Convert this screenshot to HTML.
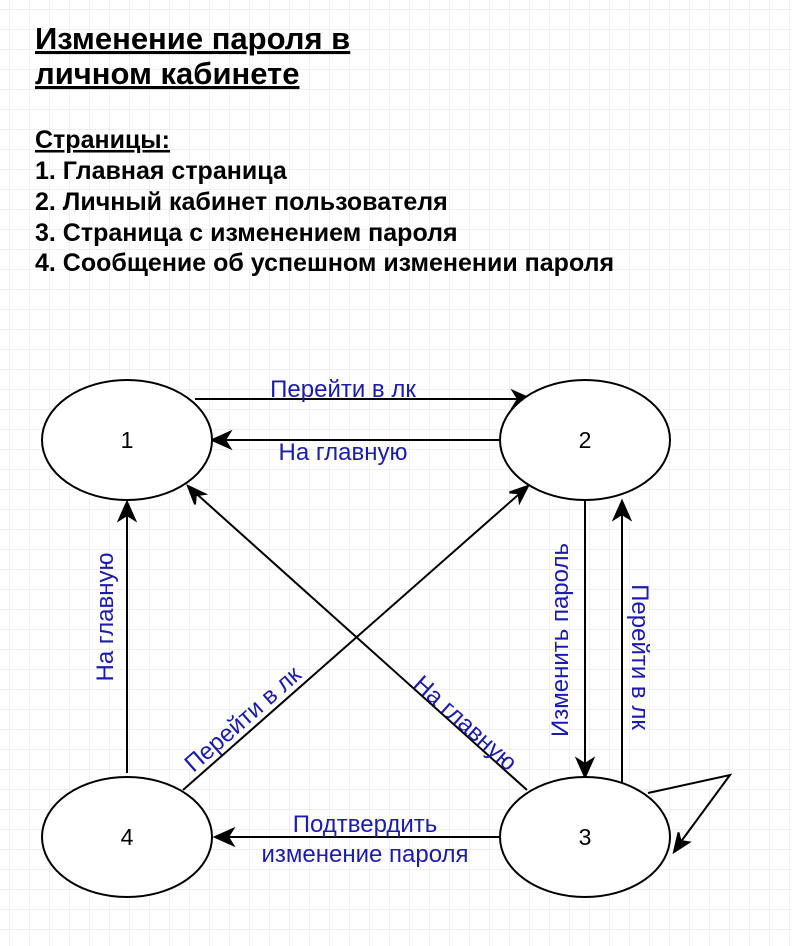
<!DOCTYPE html>
<html><head><meta charset="utf-8"><style>
body{margin:0;background:#fff;}
svg{display:block;}
</style></head><body>
<svg width="792" height="946" xmlns="http://www.w3.org/2000/svg">
<defs>
<pattern id="g" x="9" y="9" width="20" height="20" patternUnits="userSpaceOnUse">
<path d="M20 0H0V20" fill="none" stroke="#e0e0e0" stroke-width="1"/>
</pattern>
</defs>
<rect width="792" height="946" fill="url(#g)"/>
<g font-family="Liberation Sans, sans-serif" font-weight="bold" fill="#000">
<text x="35" y="49" font-size="31" text-decoration="underline">Изменение пароля в</text>
<text x="35" y="84" font-size="31" text-decoration="underline">личном кабинете</text>
<text x="35" y="148" font-size="25" text-decoration="underline">Страницы:</text>
<text x="35" y="179" font-size="25">1. Главная страница</text>
<text x="35" y="210" font-size="25">2. Личный кабинет пользователя</text>
<text x="35" y="241" font-size="25">3. Страница с изменением пароля</text>
<text x="35" y="271" font-size="25">4. Сообщение об успешном изменении пароля</text>
</g>
<g stroke="#000" stroke-width="2" fill="none">
<line x1="195" y1="399" x2="528" y2="399"/>
<path d="M531 399 l-18 -8 l5 8 l-5 8z" fill="#000"/>
<line x1="500" y1="440" x2="214" y2="440"/>
<path d="M212 440 l18 -8 l-5 8 l5 8z" fill="#000"/>
<line x1="127" y1="773" x2="127" y2="505"/>
<path d="M127 502 l-8 18 l8 -5 l8 5z" fill="#000"/>
<line x1="183" y1="790" x2="526" y2="488"/>
<path d="M528 486 l-18.5 6.5 l9 0.6 l1.2 9z" fill="#000"/>
<line x1="527" y1="790" x2="190" y2="488"/>
<path d="M188 486 l7 18.3 l0.8 -9 l9 -1.3z" fill="#000"/>
<line x1="585" y1="500" x2="585" y2="774"/>
<path d="M585 777 l-8 -18 l8 5 l8 -5z" fill="#000"/>
<line x1="622" y1="782" x2="622" y2="504"/>
<path d="M622 501 l-8 18 l8 -5 l8 5z" fill="#000"/>
<line x1="500" y1="837" x2="218" y2="837"/>
<path d="M215 837 l18 -8 l-5 8 l5 8z" fill="#000"/>
<polyline points="648,793 730,775 677,847"/>
<path d="M674 852 l4.5 -19.5 l2 8.5 l8.5 1.3z" fill="#000"/>
<ellipse cx="127" cy="440" rx="85" ry="60" fill="#fff"/>
<ellipse cx="585" cy="440" rx="85" ry="60" fill="#fff"/>
<ellipse cx="585" cy="837" rx="85" ry="60" fill="#fff"/>
<ellipse cx="127" cy="837" rx="85" ry="60" fill="#fff"/>
</g>
<g font-family="Liberation Sans, sans-serif" font-size="23" text-anchor="middle" fill="#000">
<text x="127" y="448">1</text>
<text x="585" y="448">2</text>
<text x="585" y="845">3</text>
<text x="127" y="845">4</text>
</g>
<g font-family="Liberation Sans, sans-serif" font-size="24" text-anchor="middle" fill="#1c1caa">
<text x="343" y="397">Перейти в лк</text>
<text x="343" y="460">На главную</text>
<text transform="translate(113,617) rotate(-90)">На главную</text>
<text transform="translate(248,725) rotate(-41.4)">Перейти в лк</text>
<text transform="translate(460,729) rotate(41.8)">На главную</text>
<text transform="translate(568,640) rotate(-90)">Изменить пароль</text>
<text transform="translate(632,657) rotate(90)">Перейти в лк</text>
<text x="365" y="832">Подтвердить</text>
<text x="365" y="862">изменение пароля</text>
</g>
</svg>
</body></html>
